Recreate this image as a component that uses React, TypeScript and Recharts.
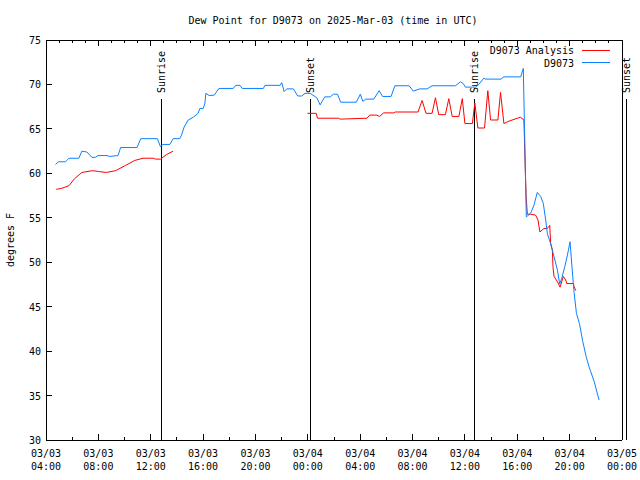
import { Line, LineChart, ReferenceLine, XAxis, YAxis } from "recharts";

const FONT = "'DejaVu Sans Mono', monospace";
const RED = "#ff0000";
const BLUE = "#0a80ff";

// hours since 03/03 00:00 UTC
const obsTimes = [
  4.73, 4.96, 5.49, 5.75, 6.51, 6.74, 7.12, 7.51, 7.77, 7.97, 8.66, 8.86, 9.5, 9.7, 10.95, 11.24,
  12.51, 12.74, 12.94, 13.46, 13.71, 14.22, 14.35, 14.55, 14.86, 15.24, 15.62, 15.75, 16.01, 16.14,
  16.21, 16.47, 16.85, 17.21, 18.3, 18.49, 18.82, 18.99, 20.6, 20.73, 21.88, 22.01, 22.19, 22.39,
  22.9, 23.23, 23.54, 23.79, 24.18, 24.69, 24.94, 25.29, 25.71, 25.96, 26.27, 26.51, 27.7, 28.01,
  28.2, 28.43, 29.04, 29.45, 29.71, 30.36, 30.65, 31.74, 32.06, 32.55, 33.11, 33.49, 35.28, 35.66,
  35.87, 36.04, 36.81, 37.06, 37.44, 37.58, 38.78, 38.93, 40.26, 40.46, 40.69, 40.77, 41.02, 41.27,
  41.53, 41.79, 41.99, 42.17, 42.3, 42.55, 42.81, 43.07, 43.24, 43.4, 43.63, 43.83, 44.03, 44.21,
  44.34, 44.52, 44.75, 45.0, 45.26, 45.48, 45.87, 46.25
];
const obsDewPoint = [
  61.0, 61.3, 61.3, 61.7, 61.7, 62.5, 62.4, 61.8, 61.8, 62.0, 62.0, 61.9, 62.0, 62.9, 62.9, 63.9,
  63.9, 63.0, 63.25, 63.25, 63.9, 63.9, 64.3, 65.2, 66.0, 66.3, 66.75, 67.3, 67.3, 67.9,
  69.0, 68.75, 68.8, 69.55, 69.55, 69.9, 69.9, 69.55, 69.55, 69.9, 69.9, 70.2, 69.2, 69.5,
  69.5, 68.7, 68.7, 69.0, 69.0, 68.5, 67.7, 68.6, 68.6, 68.9, 68.9, 68.0, 68.0, 68.9,
  68.1, 68.35, 68.35, 69.3, 68.65, 68.65, 69.85, 69.85, 69.25, 69.5, 69.5, 69.85, 69.85, 70.3,
  70.1, 69.7, 69.7, 70.0, 70.7, 70.6, 70.6, 70.85, 70.85, 71.8, 55.1, 55.2, 55.5, 56.4,
  57.85, 57.4, 56.6, 54.75, 53.2, 52.1, 50.6, 49.1, 47.55, 48.2, 49.5, 50.8, 52.3, 48.9,
  46.6, 44.25, 43.1, 41.1, 39.4, 38.25, 36.6, 34.5
];

const analysisTimes = [
  4.78, 5.16, 5.75, 6.18, 6.74, 7.58, 8.02, 8.61, 9.32, 10.09, 10.78, 11.41, 12.18, 12.38, 12.74,
  13.2, 13.71, 18, 23.97, 24.64, 24.74, 26.34, 26.47, 28.52, 28.72, 29.28, 29.48, 29.79, 30.55,
  30.68, 32.42, 32.73, 33.03, 33.49, 33.75, 34.0, 34.51, 34.77, 35.03, 35.54, 35.8, 36.0, 36.57,
  36.76, 36.99, 37.5, 37.75, 37.96, 38.52, 38.72, 38.98, 39.24, 40.0, 40.26, 40.51, 40.6, 40.68,
  40.77, 41.02, 41.4, 41.58, 41.73, 42.04, 42.3, 42.48, 42.55, 42.68, 42.73, 42.81, 43.07, 43.27,
  43.52, 43.7, 43.78, 44.29, 44.34, 44.47
];
const analysisDewPoint = [
  58.2, 58.3, 58.6, 59.4, 60.1, 60.3, 60.2, 60.1, 60.3, 60.9, 61.45, 61.7, 61.7, 61.6, 61.6,
  62.1, 62.5, null, 66.75, 66.75, 66.2, 66.2, 66.1, 66.2, 66.55, 66.55, 66.4, 66.8, 66.8,
  66.9, 66.9, 68.2, 66.75, 66.75, 68.5, 66.6, 66.6, 68.4, 66.4, 66.4, 68.4, 65.6, 65.6,
  67.9, 65.1, 65.1, 69.3, 66.0, 66.0, 69.1, 65.6, 65.8, 66.2, 66.3, 66.0, 60.9, 57.3,
  55.4, 55.4, 55.3, 54.75, 53.4, 53.8, 53.8, 54.15, 52.1, 51.4, 49.4, 48.4, 47.8, 47.2,
  48.4, 48.0, 47.6, 47.6, 47.25, 46.8
];

const sunTimes = [12.78, 24.17, 36.7, 48.31];
const sunLabels = ["Sunrise", "Sunset", "Sunrise", "Sunset"];

const xTicks = [4, 8, 12, 16, 20, 24, 28, 32, 36, 40, 44, 48];
const xDateLabels = ["03/03", "03/03", "03/03", "03/03", "03/03", "03/04", "03/04", "03/04", "03/04", "03/04", "03/04", "03/05"];
const xTimeLabels = ["04:00", "08:00", "12:00", "16:00", "20:00", "00:00", "04:00", "08:00", "12:00", "16:00", "20:00", "00:00"];
const yTicks = [30, 35, 40, 45, 50, 55, 60, 65, 70, 75];

const obsData = obsTimes.map((t, i) => ({ t, v: obsDewPoint[i] }));
const analysisData = analysisTimes.map((t, i) => ({ t, v: analysisDewPoint[i] }));

const bottomMinor: number[] = [];
for (let h = 4; h <= 48; h += 2) bottomMinor.push(h);
const topMinor: number[] = [];
for (let h = 4; h <= 48; h += 1) topMinor.push(h);

function BottomTick({ x, y, payload }: any) {
  const i = xTicks.indexOf(payload.value);
  const major = i >= 0;
  return (
    <g>
      <line x1={x} x2={x} y1={440} y2={440 - (major ? 6 : 3)} stroke="#000" shapeRendering="crispEdges" />
      {major && (
        <text x={x} y={440} textAnchor="middle" fontFamily={FONT} fontSize={10} fill="#000">
          <tspan x={x} dy={17}>{xDateLabels[i]}</tspan>
          <tspan x={x} dy={13}>{xTimeLabels[i]}</tspan>
        </text>
      )}
    </g>
  );
}

function TopTick({ x, payload }: any) {
  const major = xTicks.includes(payload.value);
  return <line x1={x} x2={x} y1={40} y2={40 + (major ? 6 : 3)} stroke="#000" shapeRendering="crispEdges" />;
}

function LeftTick({ y, payload }: any) {
  return (
    <g>
      <line x1={46} x2={52} y1={y} y2={y} stroke="#000" shapeRendering="crispEdges" />
      <text x={41} y={y + 4} textAnchor="end" fontFamily={FONT} fontSize={10} fill="#000">
        {payload.value}
      </text>
    </g>
  );
}

function RightTick({ y }: any) {
  return <line x1={622} x2={616} y1={y} y2={y} stroke="#000" shapeRendering="crispEdges" />;
}

function SunMarker(props: any) {
  const { x1, y1, y2, text } = props;
  const top = Math.min(y1, y2);
  const bottom = Math.max(y1, y2);
  const lx = Math.round(x1);
  const ty = top + 53;
  return (
    <g>
      <line x1={lx} x2={lx} y1={top + 59} y2={bottom} stroke="#000" shapeRendering="crispEdges" />
      <text
        x={lx + 4}
        y={ty}
        transform={`rotate(-90 ${lx + 4} ${ty})`}
        fontFamily={FONT}
        fontSize={10}
        fill="#000"
      >
        {text}
      </text>
    </g>
  );
}

const frameLine = { stroke: "#000", shapeRendering: "crispEdges" };

export default function App() {
  return (
    <div style={{ position: "absolute", left: 0, top: 0, width: 640, height: 480, background: "#fff" }}>
      <LineChart width={640} height={480} margin={{ top: 39, right: 17, bottom: 39, left: 45 }}>
        <XAxis
          dataKey="t"
          type="number"
          domain={[4, 48]}
          allowDataOverflow
          ticks={bottomMinor}
          interval={0}
          height={1}
          tickSize={0}
          tickMargin={0}
          tick={<BottomTick />}
          axisLine={frameLine}
          tickLine={false}
        />
        <XAxis
          xAxisId="top"
          orientation="top"
          dataKey="t"
          type="number"
          domain={[4, 48]}
          allowDataOverflow
          ticks={topMinor}
          interval={0}
          height={1}
          tickSize={0}
          tickMargin={0}
          tick={<TopTick />}
          axisLine={frameLine}
          tickLine={false}
        />
        <YAxis
          type="number"
          domain={[30, 75]}
          ticks={yTicks}
          interval={0}
          width={1}
          tickSize={0}
          tickMargin={0}
          tick={<LeftTick />}
          axisLine={frameLine}
          tickLine={false}
        />
        <YAxis
          yAxisId="right"
          orientation="right"
          type="number"
          domain={[30, 75]}
          ticks={yTicks}
          interval={0}
          width={1}
          tickSize={0}
          tickMargin={0}
          tick={<RightTick />}
          axisLine={frameLine}
          tickLine={false}
        />
        {sunTimes.map((t, i) => (
          <ReferenceLine
            key={i}
            x={t}
            ifOverflow="visible"
            stroke="#000"
            shape={(p: any) => <SunMarker {...p} text={sunLabels[i]} />}
          />
        ))}
        <Line
          data={analysisData}
          dataKey="v"
          type="linear"
          stroke={RED}
          strokeWidth={1}
          dot={false}
          activeDot={false}
          connectNulls={false}
          isAnimationActive={false}
        />
        <Line
          data={obsData}
          dataKey="v"
          type="linear"
          stroke={BLUE}
          strokeWidth={1}
          dot={false}
          activeDot={false}
          isAnimationActive={false}
        />
      </LineChart>
      <svg width={640} height={480} style={{ position: "absolute", left: 0, top: 0, pointerEvents: "none" }}>
        <text x={333} y={24} textAnchor="middle" fontFamily={FONT} fontSize={10} fill="#000">
          Dew Point for D9073 on 2025-Mar-03 (time in UTC)
        </text>
        <text x={14} y={240} textAnchor="middle" transform="rotate(-90 14 240)" fontFamily={FONT} fontSize={10} fill="#000">
          degrees F
        </text>
        <text x={574} y={54} textAnchor="end" fontFamily={FONT} fontSize={10} fill="#000">
          D9073 Analysis
        </text>
        <line x1={582} x2={610} y1={50} y2={50} stroke={RED} shapeRendering="crispEdges" />
        <text x={574} y={67} textAnchor="end" fontFamily={FONT} fontSize={10} fill="#000">
          D9073
        </text>
        <line x1={582} x2={610} y1={62} y2={62} stroke={BLUE} shapeRendering="crispEdges" />
      </svg>
    </div>
  );
}
